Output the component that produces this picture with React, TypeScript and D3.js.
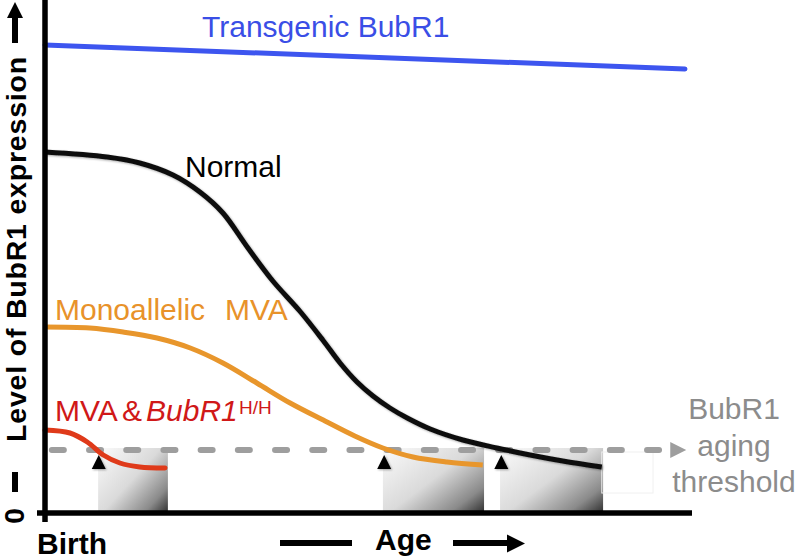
import React from "react";
import * as d3 from "d3";

// ---- Data (age 0-100 arbitrary units, level 0-100 arbitrary units) ----
const transgenicAge = [0, 100];
const transgenicLevel = [93.6, 88.8];

const normalAge = [0, 9.7, 14.8, 20, 24.2, 27.8, 31.6, 35.6, 39.8, 43.4, 46.1, 48.75, 51.25, 53.9, 56.6, 60.2, 65.3, 70.6, 75.8, 80.9, 87];
const normalLevel = [72.2, 71.2, 70, 67.6, 64.2, 60, 53.2, 46.4, 40.4, 34.6, 30, 26.2, 23.4, 21, 19, 16.8, 14.6, 13, 11.6, 10.4, 9.2];

const monoAge = [0, 7, 12.2, 17.5, 22.7, 27.8, 33.1, 38.3, 43.75, 48.4, 52.8, 57.5, 62.8, 68.4];
const monoLevel = [37.2, 37, 36.2, 35, 33, 30, 26, 22, 18.4, 15.4, 13, 11.2, 10.2, 9.6];

const mvaAge = [0, 3.9, 6.6, 9.1, 11.7, 14.8, 18.75];
const mvaLevel = [16.6, 16, 14.2, 11.6, 10, 9.2, 9];

const thresholdLevel = 12.6;
const thresholdStart = 0.6;
const thresholdEnd = 96.5;
const thresholdArrowTip = 100.2;

const boxStart = [8.3, 52.8, 71.1];
const boxEnd = [19.2, 68.6, 87.2];
const boxTopLevel = 13;
const onsetAges = [8.4, 53, 71.3];

const ghostBoxAge = [87, 95];
const ghostBoxLevel = [4, 12.2];

const thresholdLabel = ["BubR1", "aging", "threshold"];

const W = 800;
const H = 560;
const FONT = "'Liberation Sans', Arial, Helvetica, sans-serif";

export default function App() {
  const x = d3.scaleLinear().domain([0, 100]).range([45, 685]);
  const y = d3.scaleLinear().domain([0, 100]).range([513, 13]);

  const zip = (a: number[], b: number[]) => a.map((v, i) => [v, b[i]] as [number, number]);

  const straight = d3
    .line<[number, number]>()
    .x((d) => x(d[0]))
    .y((d) => y(d[1]));
  const smooth = d3
    .line<[number, number]>()
    .x((d) => x(d[0]))
    .y((d) => y(d[1]))
    .curve(d3.curveCatmullRom.alpha(0.5));

  const blueD = straight(zip(transgenicAge, transgenicLevel)) || "";
  const normalD = smooth(zip(normalAge, normalLevel)) || "";
  const monoD = smooth(zip(monoAge, monoLevel)) || "";
  const mvaD = smooth(zip(mvaAge, mvaLevel)) || "";

  const ty = y(thresholdLevel);
  const triW = 7;
  const triTop = y(11.6);
  const triBot = y(8.8);

  return (
    <svg
      width={W}
      height={H}
      style={{ position: "absolute", left: 0, top: 0, background: "#fff" }}
      fontFamily={FONT}
    >
      <defs>
        <linearGradient id="boxGrad" x1="0" y1="0.15" x2="1" y2="1">
          <stop offset="0" stopColor="#f6f6f6" />
          <stop offset="0.45" stopColor="#dadada" />
          <stop offset="0.8" stopColor="#8a8a8a" />
          <stop offset="1" stopColor="#2e2e2e" />
        </linearGradient>
        <filter id="shadow" x="-20%" y="-20%" width="140%" height="140%">
          <feDropShadow dx="1" dy="1" stdDeviation="1" floodColor="#000" floodOpacity="0.35" />
        </filter>
      </defs>

      {/* shaded boxes */}
      {boxStart.map((s, i) => (
        <rect
          key={"box" + i}
          x={x(s)}
          y={y(boxTopLevel)}
          width={x(boxEnd[i]) - x(s)}
          height={y(0) - y(boxTopLevel)}
          fill="url(#boxGrad)"
        />
      ))}
      <rect
        x={x(ghostBoxAge[0])}
        y={y(ghostBoxLevel[1])}
        width={x(ghostBoxAge[1]) - x(ghostBoxAge[0])}
        height={y(ghostBoxLevel[0]) - y(ghostBoxLevel[1])}
        fill="none"
        stroke="#f0f0f0"
        strokeWidth={1}
      />

      {/* threshold dashed line */}
      <line
        x1={x(thresholdStart) + 3}
        x2={x(thresholdEnd) - 2}
        y1={ty}
        y2={ty}
        stroke="#9e9e9e"
        strokeWidth={6}
        strokeDasharray="12 25.2"
        strokeLinecap="round"
      />
      <path
        d={`M${x(thresholdArrowTip) - 16},${ty - 8} L${x(thresholdArrowTip)},${ty} L${x(thresholdArrowTip) - 16},${ty + 8} Z`}
        fill="#9e9e9e"
      />

      {/* curves */}
      <path d={blueD} fill="none" stroke="#3d55ef" strokeWidth={5} strokeLinecap="round" />
      <path d={normalD} fill="none" stroke="#111" strokeWidth={5} strokeLinecap="butt" filter="url(#shadow)" />
      <path d={monoD} fill="none" stroke="#e8962c" strokeWidth={5} strokeLinecap="butt" />
      <path d={mvaD} fill="none" stroke="#df3a1a" strokeWidth={5} strokeLinecap="round" />

      {/* onset markers */}
      {onsetAges.map((a, i) => (
        <path
          key={"tri" + i}
          d={`M${x(a)},${triTop} L${x(a) + triW},${triBot} L${x(a) - triW},${triBot} Z`}
          fill="#000"
          filter="url(#shadow)"
        />
      ))}

      {/* axes */}
      <line x1={45} x2={45} y1={0} y2={522} stroke="#000" strokeWidth={5.5} />
      <line x1={37} x2={692} y1={y(0)} y2={y(0)} stroke="#000" strokeWidth={5.5} />

      {/* curve labels */}
      <text x={202} y={37} fontSize={30} fill="#3a4ee6">Transgenic BubR1</text>
      <text x={185} y={177} fontSize={30} fill="#000">Normal</text>
      <text x={55} y={320} fontSize={30} fill="#e8922a">
        Monoallelic
        <tspan x={225}>MVA</tspan>
      </text>
      <text x={55} y={421} fontSize={30} fill="#d01818">
        MVA
        <tspan x={122}>&amp;</tspan>
        <tspan x={146} fontStyle="italic">BubR1</tspan>
        <tspan x={239} y={414} fontSize={19}>H/H</tspan>
      </text>

      {/* threshold label */}
      {thresholdLabel.map((t, i) => (
        <text key={"tl" + i} x={734} y={419 + i * 36.5} fontSize={30} fill="#8c8c8c" textAnchor="middle">
          {t}
        </text>
      ))}

      {/* y axis title */}
      <g transform="rotate(-90)">
        <text x={-249} y={26} fontSize={28.5} fontWeight="bold" letterSpacing={0.8} textAnchor="middle" fill="#000">
          Level of BubR1 expression
        </text>
        <text x={-516} y={24} fontSize={28} fontWeight="bold" textAnchor="middle" fill="#000">
          0
        </text>
      </g>
      <line x1={15} x2={15} y1={472} y2={492} stroke="#000" strokeWidth={6} />
      <line x1={15} x2={15} y1={43} y2={16} stroke="#000" strokeWidth={6} />
      <path d="M7,18 L23,18 L15,2 Z" fill="#000" />

      {/* x axis labels */}
      <text x={37} y={554} fontSize={30} fontWeight="bold" fill="#000">Birth</text>
      <text x={375} y={550} fontSize={30} fontWeight="bold" fill="#000">Age</text>
      <line x1={280} x2={352} y1={543} y2={543} stroke="#000" strokeWidth={6} />
      <line x1={453} x2={510} y1={543} y2={543} stroke="#000" strokeWidth={6} />
      <path d="M507,534.5 L525,543.5 L507,552.5 Z" fill="#000" />
    </svg>
  );
}
